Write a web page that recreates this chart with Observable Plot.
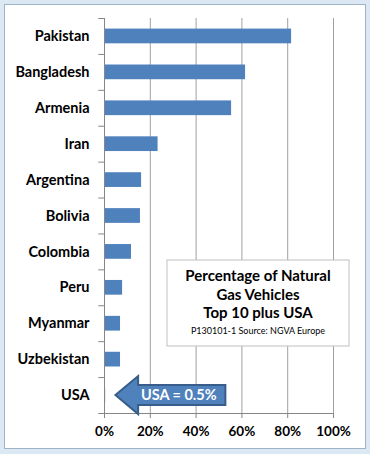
<!DOCTYPE html>
<html>
<head>
<meta charset="utf-8">
<script src="https://cdn.jsdelivr.net/npm/d3@7"></script>
<script src="https://cdn.jsdelivr.net/npm/@observablehq/plot@0.6"></script>
<style>
  html, body { margin: 0; padding: 0; background: #dce8f3; }
  #wrap { position: relative; width: 370px; height: 454px; overflow: hidden; }
  #frame { position: absolute; left: 4px; top: 4px; width: 360px; height: 443px; background: #fff; border: 1px solid #9fb3c7; }
  #chart { position: absolute; left: 0; top: 0; }
  svg { font-family: Lato, "Open Sans", sans-serif; }
</style>
</head>
<body>
<div id="wrap"><div id="frame"></div><div id="chart"></div></div>
<script>
const countries = ["Pakistan", "Bangladesh", "Armenia", "Iran", "Argentina", "Bolivia", "Colombia", "Peru", "Myanmar", "Uzbekistan", "USA"];
const shares = [0.817, 0.616, 0.555, 0.234, 0.162, 0.157, 0.118, 0.079, 0.070, 0.070, 0.005];
const xTicks = [0, 0.2, 0.4, 0.6, 0.8, 1.0];
const titleLines = ["Percentage of Natural", "Gas Vehicles", "Top 10 plus USA"];
const sourceLine = "P130101-1 Source: NGVA Europe";
const calloutText = "USA = 0.5%";

const data = countries.map((c, i) => ({country: c, share: shares[i]}));
const step = 395 / countries.length;

const plot = Plot.plot({
  width: 370,
  height: 454,
  marginLeft: 104,
  marginRight: 37,
  marginTop: 18,
  marginBottom: 41,
  style: {background: "transparent", fontFamily: "Lato, 'Open Sans', sans-serif", fontWeight: "bold", fontSize: "13px", color: "#000"},
  x: {domain: [0, 1], ticks: xTicks, tickFormat: d3.format(".0%"), label: null},
  y: {domain: countries, paddingInner: 0.59, paddingOuter: 0.295, round: false, label: null},
  marks: [
    Plot.ruleX(xTicks.slice(1), {stroke: "#a0a0a0", strokeOpacity: 1, strokeWidth: 1}),
    Plot.barX(data, {y: "country", x: "share", fill: "#4f81bd"}),
    Plot.ruleY(countries, {y: d => d, x1: -0.025, x2: 0, dy: -step / 2, stroke: "#868686"}),
    Plot.ruleY(["USA"], {y: d => d, x1: -0.025, x2: 0, dy: step / 2, stroke: "#868686"}),
    Plot.ruleX([0], {stroke: "#868686"}),
    Plot.ruleY(["USA"], {y: d => d, x1: 0, x2: 1, dy: step / 2, stroke: "#868686"}),
    Plot.axisX({ticks: xTicks, tickFormat: d3.format(".0%"), tickSize: 5, tickPadding: 8, stroke: "#868686", fontSize: 13.5, fontWeight: "bold", fill: "#000"}),
    Plot.axisY({tickSize: 0, tickPadding: 15, fontSize: 14.5, fontWeight: "bold", fill: "#000"})
  ]
});
document.getElementById("chart").appendChild(plot);

const xs = plot.scale("x");
const ys = plot.scale("y");
const X = v => xs.apply(v);
const svg = d3.select(plot);

// Text box annotation
const bx0 = X(0.275), bx1 = X(1.07), by0 = 260, by1 = 346;
const g = svg.append("g");
g.append("rect").attr("x", bx0).attr("y", by0).attr("width", bx1 - bx0).attr("height", by1 - by0)
  .attr("fill", "#fff").attr("stroke", "#bfbfbf").attr("stroke-width", 1);
const cx = (bx0 + bx1) / 2;
titleLines.forEach((t, i) => {
  g.append("text").attr("x", cx).attr("y", 281 + i * 18.5).attr("text-anchor", "middle")
    .attr("font-size", 15).attr("font-weight", "bold").attr("fill", "#000").text(t);
});
g.append("text").attr("x", cx).attr("y", 334).attr("text-anchor", "middle")
  .attr("font-size", 9).attr("font-weight", "normal").attr("fill", "#000").text(sourceLine);

// Callout arrow anchored to USA bar
const cy = ys.apply("USA") + ys.bandwidth / 2;
const tip = X(0.05), neck = X(0.149), tail = X(0.53);
const hh = 19, bh = 10;
const path = `M${tip},${cy} L${neck},${cy - hh} L${neck},${cy - bh} L${tail},${cy - bh} L${tail},${cy + bh} L${neck},${cy + bh} L${neck},${cy + hh} Z`;
g.append("path").attr("d", path).attr("fill", "#4f81bd").attr("stroke", "#385d8a").attr("stroke-width", 2).attr("stroke-linejoin", "miter");
g.append("text").attr("x", (neck + tail) / 2 - 3).attr("y", cy + 5).attr("text-anchor", "middle")
  .attr("font-size", 14.5).attr("font-weight", "bold").attr("fill", "#fff").text(calloutText);
</script>
</body>
</html>
